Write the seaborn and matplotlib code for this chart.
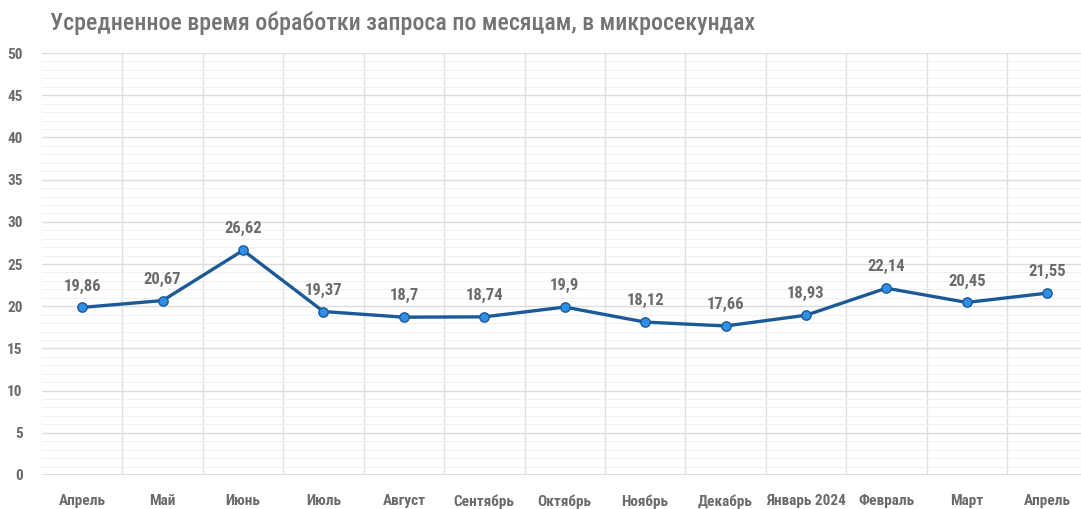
import seaborn as sns
import matplotlib.pyplot as plt
from matplotlib import font_manager
from matplotlib.ticker import MultipleLocator

months = ['Апрель', 'Май', 'Июнь', 'Июль', 'Август', 'Сентябрь', 'Октябрь',
          'Ноябрь', 'Декабрь', 'Январь 2024', 'Февраль', 'Март', 'Апрель']
values = [19.86, 20.67, 26.62, 19.37, 18.70, 18.74, 19.90,
          18.12, 17.66, 18.93, 22.14, 20.45, 21.55]
labels = ['19,86', '20,67', '26,62', '19,37', '18,7', '18,74', '19,9',
          '18,12', '17,66', '18,93', '22,14', '20,45', '21,55']

sns.set_theme(style="white")

# ищем узкий шрифт
names = {f.name for f in font_manager.fontManager.ttflist}
family = 'DejaVu Sans'
for cand in ['Roboto Condensed', 'Liberation Sans Narrow', 'Open Sans Condensed']:
    if cand in names:
        family = cand
        break
plt.rcParams['font.family'] = [family, 'DejaVu Sans']
stretch = 'condensed' if family == 'DejaVu Sans' else 'normal'

gray = '#6b6b6b'
fig = plt.figure(figsize=(10.81, 5.09), dpi=100)
ax = fig.add_axes([0.0389, 0.0668, 0.967, 0.829])

x = list(range(len(months)))
sns.lineplot(x=x, y=values, ax=ax, color='#1b5a96', linewidth=2.4, zorder=3)
sns.scatterplot(x=x, y=values, ax=ax, color='#2f8fe6', edgecolor='#1b5a96',
                linewidth=1.0, s=45, zorder=4)

for xi, v, t in zip(x, values, labels):
    ax.annotate(t, (xi, v), xytext=(0, 10), textcoords='offset points',
                ha='center', va='bottom', fontsize=12, color=gray,
                fontweight='bold', fontstretch=stretch)

ax.set_xlim(-0.5, len(months) - 0.5)
ax.set_ylim(0, 50)
ax.yaxis.set_major_locator(MultipleLocator(5))
ax.yaxis.set_minor_locator(MultipleLocator(1))
ax.set_xticks(x)
ax.set_xticks([i + 0.5 for i in x], minor=True)
ax.set_xticklabels(months)

ax.grid(which='major', axis='y', color='#dcdcdc', linewidth=1.0)
ax.grid(which='minor', axis='y', color='#f0f0f0', linewidth=0.7)
ax.grid(which='minor', axis='x', color='#e0e0e0', linewidth=1.0)
ax.grid(which='major', axis='x', visible=False)
ax.tick_params(which='both', length=0)
ax.tick_params(axis='x', pad=14)
ax.tick_params(axis='y', pad=14)
for lab in ax.get_xticklabels() + ax.get_yticklabels():
    lab.set_color(gray)
    lab.set_fontsize(11)
    lab.set_fontweight('bold')
    lab.set_fontstretch(stretch)
for s in ax.spines.values():
    s.set_visible(False)
ax.axhline(0, color='#d9d9d9', linewidth=1.2, zorder=1)

fig.text(0.046, 0.955, 'Усредненное время обработки запроса по месяцам, в микросекундах',
         fontsize=17.2, color='#747474', fontweight='medium', fontstretch=stretch,
         ha='left', va='center')

fig.savefig('out.png', dpi=100)
